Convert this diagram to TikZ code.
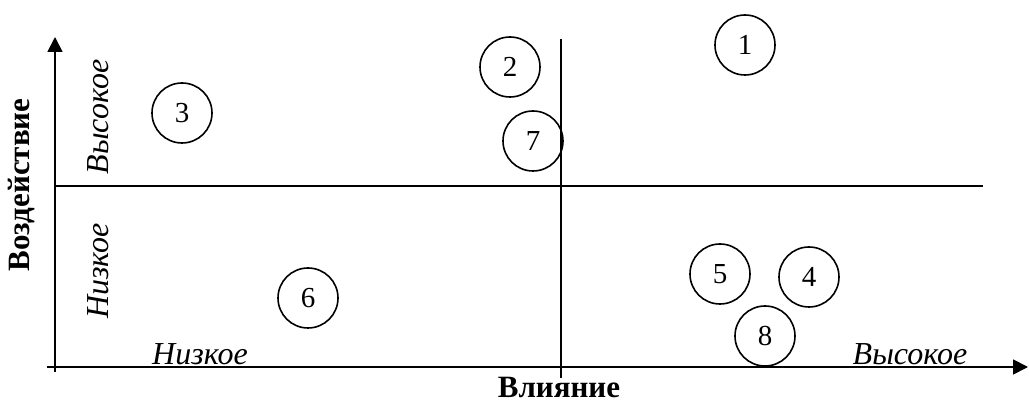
\documentclass[tikz,border=0pt]{standalone}
\usepackage{fontspec}
\setmainfont{Liberation Serif}
\usetikzlibrary{arrows.meta}
\begin{document}
\begin{tikzpicture}[x=1pt,y=-1pt,
  party/.style={circle,draw,line width=1.6pt,minimum size=60pt,inner sep=0pt,font=\fontsize{29}{31}\selectfont},
  axis/.style={line width=1.8pt,-{Triangle[length=15pt,width=15pt]}},
  divider/.style={line width=1.4pt},
  scale label/.style={font=\fontsize{32}{34}\selectfont\itshape},
  axis label/.style={font=\fontsize{31}{33}\selectfont\bfseries}]
\useasboundingbox (0,0) rectangle (1029,403);
% axes
\coordinate (ytip) at (55,37);
\coordinate (ybot) at (55,372);
\coordinate (xstart) at (47,367);
\coordinate (xtip) at (1028,367);
\draw[axis] (ybot) -- (ytip);
\draw[axis] (xstart) -- (xtip);
% quadrant dividers
\coordinate (hl) at (55,186);
\coordinate (hr) at (983,186);
\coordinate (vt) at (561,39);
\coordinate (vb) at (561,378);
\draw[divider] (hl) -- (hr);
\draw[divider] (vt) -- (vb);
% stakeholders
\node[party] (p1) at (745,45) {1};
\node[party] (p2) at (510,67) {2};
\node[party] (p3) at (182,113) {3};
\node[party] (p7) at (533,141) {7};
\node[party] (p6) at (308,298) {6};
\node[party] (p5) at (720,274) {5};
\node[party] (p4) at (809,277) {4};
\node[party] (p8) at (765,336) {8};
% scale labels
\node[scale label,rotate=90] (yhigh) at (98,117) {Высокое};
\node[scale label,rotate=90] (ylow) at (98,271) {Низкое};
\node[scale label] (xlow) at (200,354) {Низкое};
\node[scale label] (xhigh) at (910,354) {Высокое};
% axis titles
\node[axis label,rotate=90] (ytitle) at (22,185) {Воздействие};
\node[axis label] (xtitle) at (559,388) {Влияние};
\end{tikzpicture}
\end{document}
